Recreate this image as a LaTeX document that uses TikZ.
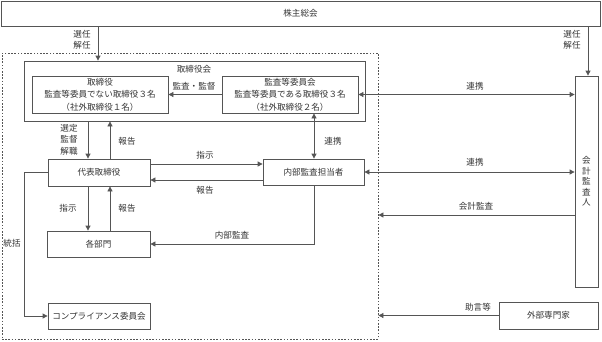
\documentclass[tikz,border=0pt]{standalone}
\usepackage{fontspec}
\setmainfont{Noto Sans CJK JP}
\usetikzlibrary{arrows.meta}
\definecolor{ln}{HTML}{555555}
\definecolor{tx}{HTML}{333333}
\begin{document}
\begin{tikzpicture}[x=1bp,y=-1bp,
  font=\fontsize{8.6}{12}\selectfont, text=tx,
  box/.style={draw=ln, line width=0.8bp, inner sep=1bp, align=center},
  arr/.style={draw=ln, line width=0.8bp, -{Triangle[length=5bp,width=5bp]}},
  darr/.style={draw=ln, line width=0.8bp, {Triangle[length=5bp,width=5bp]}-{Triangle[length=5bp,width=5bp]}},
  lbl/.style={inner sep=0, align=center, font=\fontsize{8.6}{11.5}\selectfont}]
\useasboundingbox (0,0) rectangle (602,341);
% boxes
\node[box, minimum width=599bp, minimum height=25bp] (kabu) at (300.5,13.5) {株主総会};
\node[draw=ln, line width=0.8bp, dash pattern=on 1.6bp off 1.6bp, minimum width=376bp, minimum height=286bp, inner sep=0] (grp) at (190,196) {};
\node[box, minimum width=341bp, minimum height=60bp] (board) at (194.5,91) {};
\node[lbl] (boardlbl) at (194,69) {取締役会};
\node[box, minimum width=136bp, minimum height=37bp, font=\fontsize{8.6}{12.5}\selectfont] (dir) at (100,94.5) {取締役\\監査等委員でない取締役３名\\（社外取締役１名）};
\node[box, minimum width=136bp, minimum height=37bp, font=\fontsize{8.6}{12.5}\selectfont] (acm) at (290,94.5) {監査等委員会\\監査等委員である取締役３名\\（社外取締役２名）};
\node[box, minimum width=23bp, minimum height=211bp, font=\fontsize{8.6}{10.6}\selectfont] (aud) at (586.5,181.5) {会\\計\\監\\査\\人};
\node[box, minimum width=102bp, minimum height=27bp] (rep) at (99,172.5) {代表取締役};
\node[box, minimum width=101bp, minimum height=26bp] (iad) at (313.5,172) {内部監査担当者};
\node[box, minimum width=103bp, minimum height=26bp] (dept) at (98.5,244) {各部門};
\node[box, minimum width=102bp, minimum height=26bp, inner sep=0.5bp] (comp) at (99,316) {コンプライアンス委員会};
\node[box, minimum width=99bp, minimum height=27bp] (ext) at (548.5,315.5) {外部専門家};
% helper x coordinates
\coordinate (x98) at (98,0);
\coordinate (x588) at (588,0);
\coordinate (x88) at (88,0);
\coordinate (x110) at (110,0);
\coordinate (x314) at (314,0);
\coordinate (x24) at (24,0);
\coordinate (y164) at (0,164);
\coordinate (y180) at (0,180);
\coordinate (y215) at (0,215);
\coordinate (y244) at (0,244);
% connectors
\draw[arr] (kabu.south -| x98) -- (board.north -| x98);
\draw[arr] (kabu.south -| x588) -- (aud.north -| x588);
\draw[arr] (acm.west) -- (dir.east);
\draw[darr] (acm.east) -- (aud.west |- acm.east);
\draw[arr] (board.south -| x88) -- (rep.north -| x88);
\draw[arr] (rep.north -| x110) -- (board.south -| x110);
\draw[arr] (rep.east |- y164) -- (iad.west |- y164);
\draw[arr] (iad.west |- y180) -- (rep.east |- y180);
\draw[arr] (rep.south -| x88) -- (dept.north -| x88);
\draw[arr] (dept.north -| x110) -- (rep.south -| x110);
\draw[darr] (acm.south -| x314) -- (iad.north -| x314);
\draw[darr] (iad.east) -- (aud.west |- iad.east);
\draw[arr] (aud.west |- y215) -- (grp.east |- y215);
\draw[arr] (iad.south -| x314) |- (dept.east);
\draw[arr] (rep.west) -| (x24 |- comp.west) -- (comp.west);
\draw[arr] (ext.west) -- (grp.east |- ext.west);
% labels
\node[lbl] (l1) at (82,40) {選任\\解任};
\node[lbl] (l2) at (572,40) {選任\\解任};
\node[lbl] (l3) at (194,86) {監査・監督};
\node[lbl] (l4) at (475,86) {連携};
\node[lbl] (l5) at (69,139.5) {選定\\監督\\解職};
\node[lbl] (l6) at (127,141) {報告};
\node[lbl] (l7) at (333,141) {連携};
\node[lbl] (l8) at (205,155.5) {指示};
\node[lbl] (l9) at (205,190) {報告};
\node[lbl] (l10) at (475,162) {連携};
\node[lbl] (l11) at (68,208.5) {指示};
\node[lbl] (l12) at (127,208.5) {報告};
\node[lbl] (l13) at (476,206) {会計監査};
\node[lbl] (l14) at (232,235) {内部監査};
\node[lbl] (l15) at (12,243) {統括};
\node[lbl] (l16) at (478,307) {助言等};
\end{tikzpicture}
\end{document}
